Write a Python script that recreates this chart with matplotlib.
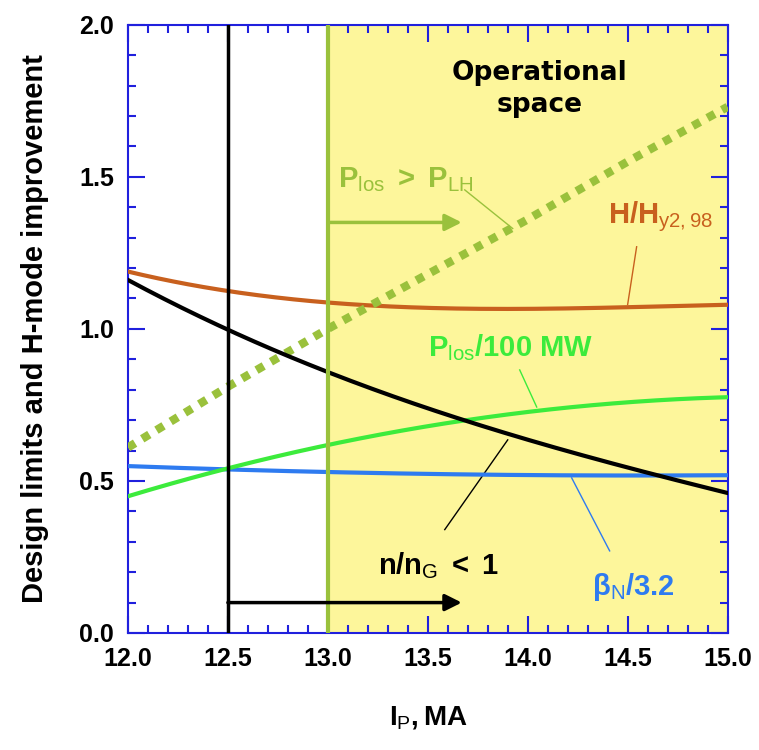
import numpy as np
import matplotlib
matplotlib.use("Agg")
import matplotlib.pyplot as plt
from matplotlib.ticker import MultipleLocator, FormatStrFormatter

plt.rcParams['font.family'] = ['Liberation Sans', 'DejaVu Sans']
plt.rcParams['mathtext.fontset'] = 'custom'
plt.rcParams['mathtext.rm'] = 'Liberation Sans'
plt.rcParams['mathtext.bf'] = 'Liberation Sans:bold'
plt.rcParams['mathtext.it'] = 'Liberation Sans:italic'

# plasma current, MA
ip = [12.0, 12.5, 13.0, 13.5, 14.0, 14.5, 15.0]
n_ng = [1.16, 1.0, 0.855, 0.74, 0.635, 0.545, 0.46]
h_h98 = [1.19, 1.12, 1.09, 1.07, 1.065, 1.07, 1.08]
p_los = [0.45, 0.54, 0.62, 0.68, 0.725, 0.76, 0.775]
beta_n = [0.55, 0.535, 0.53, 0.525, 0.52, 0.515, 0.52]
p_lh = [0.61, 0.81, 1.0, 1.18, 1.36, 1.55, 1.73]

ip_min_density = 12.5
ip_min_lh = 13.0

olive = '#9AC13C'
orange = '#C8601E'
lime = '#3CEB3C'
blue = '#2E7BF0'

fig = plt.figure(figsize=(7.59, 7.5), dpi=100)
ax = fig.add_axes([0.1686, 0.156, 0.79, 0.811])

# smooth the coarse readings for drawing
xs = np.linspace(12.0, 15.0, 200)
def smooth(y):
    return np.polyval(np.polyfit(ip, y, 3), xs)

ax.axvspan(ip_min_lh, 15.0, color='#FDF69B', zorder=0)

ax.plot(xs, smooth(h_h98), color=orange, lw=3, zorder=3)
ax.plot(xs, smooth(beta_n), color=blue, lw=3, zorder=3)
ax.plot(xs, smooth(p_los), color=lime, lw=3, zorder=3)
ax.plot(xs, smooth(n_ng), color='black', lw=3, zorder=4)
ax.plot(ip, p_lh, color=olive, lw=6, linestyle=(0, (1, 1)), zorder=3)

ax.axvline(ip_min_density, color='black', lw=2.5, zorder=5)
ax.axvline(ip_min_lh, color=olive, lw=3, zorder=5)

ax.annotate('', xy=(13.67, 0.1), xytext=(ip_min_density, 0.1),
            arrowprops=dict(arrowstyle='-|>', color='black', lw=2.5,
                            mutation_scale=25, shrinkA=0, shrinkB=0), zorder=6)
ax.annotate('', xy=(13.67, 1.35), xytext=(ip_min_lh, 1.35),
            arrowprops=dict(arrowstyle='-|>', color=olive, lw=2.5,
                            mutation_scale=25, shrinkA=0, shrinkB=0), zorder=6)

ax.text(14.06, 1.79, 'Operational\nspace', ha='center', va='center',
        fontsize=19, fontweight='bold', family='DejaVu Sans', linespacing=1.3)

ax.text(13.05, 1.49, r'$\mathbf{P}_{\rm los}\mathbf{\ >\ P}_{\rm LH}$', color=olive,
        fontsize=21, va='center')
ax.plot([13.685, 13.925], [1.457, 1.33], color=olive, lw=1)

ax.text(14.4, 1.37, r'$\mathbf{H/H}_{\rm y2,98}$', color=orange, fontsize=21, va='center')
ax.plot([14.545, 14.5], [1.27, 1.08], color=orange, lw=1)

ax.text(13.5, 0.94, r'$\mathbf{P}_{\rm los}\mathbf{/100\ MW}$', color=lime,
        fontsize=21, va='center')
ax.plot([13.96, 14.045], [0.865, 0.743], color=lime, lw=1)

ax.text(13.25, 0.22, r'$\mathbf{n/n}_{\rm G}\mathbf{\ <\ 1}$', color='black',
        fontsize=21, va='center')
ax.plot([13.585, 13.9], [0.34, 0.635], color='black', lw=1)

ax.text(14.32, 0.15, r'$\mathbf{\beta}_{\rm N}\mathbf{/3.2}$', color=blue,
        fontsize=21, va='center')
ax.plot([14.41, 14.22], [0.27, 0.51], color=blue, lw=1)

ax.set_xlim(12.0, 15.0)
ax.set_ylim(0.0, 2.0)
ax.xaxis.set_major_locator(MultipleLocator(0.5))
ax.xaxis.set_minor_locator(MultipleLocator(0.1))
ax.yaxis.set_major_locator(MultipleLocator(0.5))
ax.yaxis.set_minor_locator(MultipleLocator(0.1))
ax.xaxis.set_major_formatter(FormatStrFormatter('%.1f'))
ax.yaxis.set_major_formatter(FormatStrFormatter('%.1f'))
ax.tick_params(which='both', direction='in', top=True, right=True, color='#2020DD',
               labelsize=18, width=1.5)
ax.tick_params(which='major', length=12, pad=10)
ax.tick_params(which='minor', length=6)
for lab in ax.get_xticklabels() + ax.get_yticklabels():
    lab.set_fontweight('bold')
for s in ax.spines.values():
    s.set_color('#2020DD')
    s.set_linewidth(1.5)

ax.set_xlabel(r'$\mathbf{I}_{\rm P}\mathbf{,MA}$', fontsize=20, labelpad=24)
ax.set_ylabel('Design limits and H-mode improvement', fontsize=21,
              fontweight='bold', labelpad=22)

plt.savefig('out.png', dpi=100)
